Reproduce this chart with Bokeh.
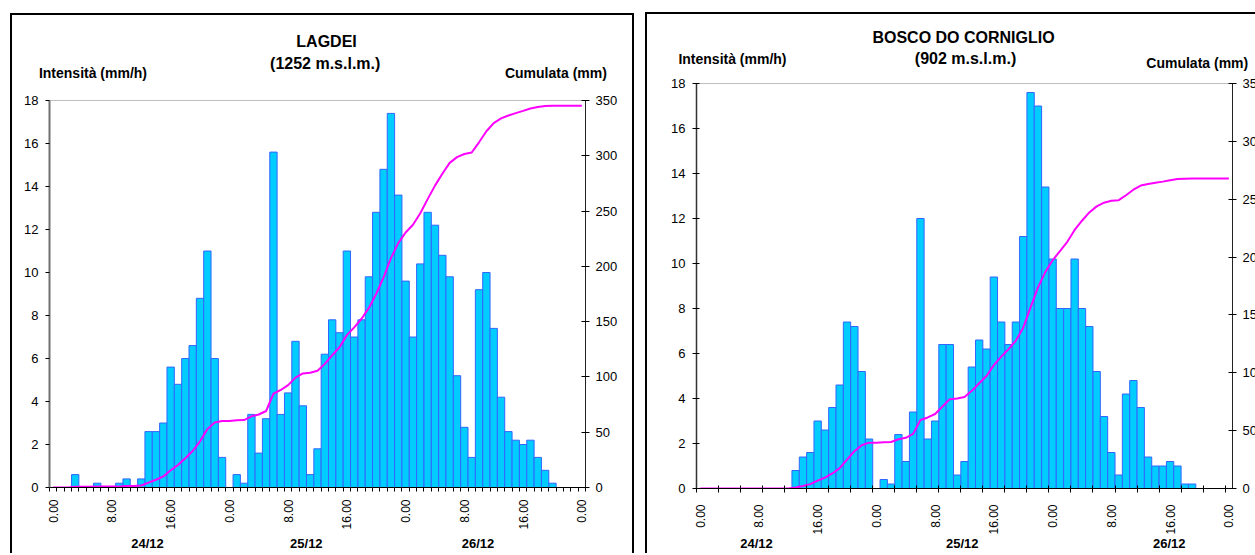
import math
from bokeh.plotting import figure
from bokeh.models import Range1d, LinearAxis, FixedTicker
from bokeh.layouts import row, column
from bokeh.embed import file_html
from bokeh.resources import INLINE

# ---------------- data ----------------
hours = list(range(73))  # hourly categories 24/12 0:00 -> 27/12 0:00
tick_labels = ["0.00", "8.00", "16.00", "0.00", "8.00", "16.00", "0.00", "8.00", "16.00", "0.00"]
day_labels = ["24/12", "25/12", "26/12"]

lagdei_intensity = [
    0, 0, 0, 0.6, 0, 0, 0.2, 0, 0, 0.2, 0.4, 0, 0.4, 2.6, 2.6, 3.0, 5.6, 4.8, 6.0, 6.6, 8.8, 11.0, 6.0, 1.4,
    0, 0.6, 0.2, 3.4, 1.6, 3.2, 15.6, 3.4, 4.4, 6.8, 3.8, 0.6, 1.8, 6.2, 7.8, 7.2, 11.0, 7.0, 7.8, 9.8,
    12.8, 14.8, 17.4, 13.6, 9.6, 7.0, 10.4, 12.8, 12.2, 10.8, 9.8, 5.2, 2.8, 1.4, 9.2, 10.0, 7.4, 4.2,
    2.6, 2.2, 2.0, 2.2, 1.4, 0.8, 0.2, 0, 0, 0, 0]
lagdei_cumulative = [
    0, 0, 0, 0.6, 0.6, 0.6, 0.8, 0.8, 0.8, 1.0, 1.4, 1.4, 1.8, 4.4, 7.0, 10.0, 15.6, 20.4, 26.4, 33.0,
    41.8, 52.8, 58.8, 60.2, 60.2, 60.8, 61.0, 64.4, 66.0, 69.2, 84.8, 88.2, 92.6, 99.4, 103.2, 103.8,
    105.6, 111.8, 119.6, 126.8, 137.8, 144.8, 152.6, 162.4, 175.2, 190.0, 207.4, 221.0, 230.6, 237.6,
    248.0, 260.8, 273.0, 283.8, 293.6, 298.8, 301.6, 303.0, 312.2, 322.2, 329.6, 333.8, 336.4, 338.6,
    340.6, 342.8, 344.2, 345.0, 345.2, 345.2, 345.2, 345.2, 345.2]

bosco_intensity = [
    0, 0, 0, 0, 0, 0, 0, 0, 0, 0, 0, 0, 0, 0.8, 1.4, 1.6, 3.0, 2.6, 3.6, 4.6, 7.4, 7.2, 5.2, 2.2,
    0, 0.4, 0.2, 2.4, 1.2, 3.4, 12.0, 2.2, 3.0, 6.4, 6.4, 0.6, 1.2, 5.4, 6.6, 6.2, 9.4, 7.4, 6.4, 7.4,
    11.2, 17.6, 17.0, 13.4, 10.2, 8.0, 8.0, 10.2, 8.0, 7.2, 5.2, 3.2, 1.6, 0.6, 4.2, 4.8, 3.6, 1.4,
    1.0, 1.0, 1.2, 1.0, 0.2, 0.2, 0, 0, 0, 0, 0]
bosco_cumulative = [
    0, 0, 0, 0, 0, 0, 0, 0, 0, 0, 0, 0, 0, 0.8, 2.2, 3.8, 6.8, 9.4, 13.0, 17.6, 25.0, 32.2, 37.4, 39.6,
    39.6, 40.0, 40.2, 42.6, 43.8, 47.2, 59.2, 61.4, 64.4, 70.8, 77.2, 77.8, 79.0, 84.4, 91.0, 97.2,
    106.6, 114.0, 120.4, 127.8, 139.0, 156.6, 173.6, 187.0, 197.2, 205.2, 213.2, 223.4, 231.4, 238.6,
    243.8, 247.0, 248.6, 249.2, 253.4, 258.2, 261.8, 263.2, 264.2, 265.2, 266.4, 267.4, 267.6, 267.8,
    267.8, 267.8, 267.8, 267.8, 267.8]

FONT = "Liberation Sans"
BAR_FILL = "#00CCFF"
BAR_LINE = "#3366FF"
LINE_COLOR = "#FF00FF"


def text_axis(p, side, positions, texts, size, standoff, bold=True):
    """An axis without line or ticks, used only to place texts outside the plot frame."""
    ax = LinearAxis(ticker=FixedTicker(ticks=list(positions), minor_ticks=[]))
    ax.major_label_overrides = {float(pos): t for pos, t in zip(positions, texts)}
    ax.axis_line_color = None
    ax.major_tick_line_color = None
    ax.minor_tick_line_color = None
    ax.major_tick_out = 0
    ax.major_tick_in = 0
    ax.major_label_text_font = FONT
    ax.major_label_text_font_size = size
    ax.major_label_text_font_style = "bold" if bold else "normal"
    ax.major_label_text_color = "black"
    ax.major_label_standoff = standoff
    p.add_layout(ax, side)
    return ax


def make_panel(intensity, cumulative, width, height, borders, minor_ticks, x_tick_in, y_tick_in,
               left_axis_color, left_axis_width, x_label_standoff, margin, styles):
    p = figure(width=width, height=height, x_range=Range1d(0, 73), y_range=Range1d(0, 18),
               output_backend="svg", toolbar_location=None, x_axis_location=None, y_axis_location=None,
               title_location=None,
               min_border_left=borders[0], min_border_right=borders[1],
               min_border_top=borders[2], min_border_bottom=borders[3])
    p.margin = margin
    p.styles = styles
    p.extra_y_ranges = {"cum": Range1d(0, 350)}
    p.xgrid.visible = False
    p.ygrid.visible = False
    p.outline_line_color = "#BFBFBF"
    p.outline_line_width = 1
    p.background_fill_color = "white"
    p.border_fill_color = "white"

    xs = [h + 0.5 for h in hours]
    p.vbar(x=xs, top=intensity, bottom=0, width=1.0, fill_color=BAR_FILL, line_color=BAR_LINE, line_width=1)
    p.line(x=xs, y=cumulative, y_range_name="cum", line_color=LINE_COLOR, line_width=2)

    # left axis (intensity)
    la = LinearAxis(ticker=FixedTicker(ticks=list(range(0, 19, 2))))
    la.axis_line_color = left_axis_color
    la.axis_line_width = left_axis_width
    la.major_tick_out = 4
    la.major_tick_in = y_tick_in
    la.minor_tick_line_color = None
    la.major_label_text_font = FONT
    la.major_label_text_font_size = "13px"
    la.major_label_text_color = "black"
    la.major_label_standoff = 7
    p.add_layout(la, "left")

    # right axis (cumulative)
    ra = LinearAxis(y_range_name="cum", ticker=FixedTicker(ticks=list(range(0, 351, 50))))
    ra.axis_line_color = "#222222"
    ra.major_tick_out = 4
    ra.major_tick_in = 4
    ra.minor_tick_line_color = None
    ra.major_label_text_font = FONT
    ra.major_label_text_font_size = "13px"
    ra.major_label_text_color = "black"
    ra.major_label_standoff = 6
    p.add_layout(ra, "right")

    # bottom axis: hour labels at category centres, tick marks at category boundaries
    label_pos = [0.5 + 8 * i for i in range(len(tick_labels))]
    ba = LinearAxis(ticker=FixedTicker(ticks=label_pos, minor_ticks=minor_ticks))
    ba.major_label_overrides = {pos: lab for pos, lab in zip(label_pos, tick_labels)}
    ba.major_label_orientation = math.pi / 2
    ba.major_tick_out = 0
    ba.major_tick_in = 0
    ba.minor_tick_out = 4
    ba.minor_tick_in = x_tick_in
    ba.minor_tick_line_color = "black"
    ba.axis_line_color = "black"
    ba.major_label_text_font = FONT
    ba.major_label_text_font_size = "12px"
    ba.major_label_text_color = "black"
    ba.major_label_standoff = x_label_standoff
    p.add_layout(ba, "below")
    return p


# ---------------- left panel: LAGDEI ----------------
p1 = make_panel(
    lagdei_intensity, lagdei_cumulative,
    width=624, height=540, borders=(37, 51, 85, 68), minor_ticks=list(range(0, 74)),
    x_tick_in=0, y_tick_in=0, left_axis_color="#707070", left_axis_width=2, x_label_standoff=8,
    margin=(13, 0, 0, 10),
    styles={"border-top": "2px solid black", "border-left": "2px solid black",
            "border-right": "2px solid black"})
text_axis(p1, "above", [5.92, 68.97], ["Intensità (mm/h)", "Cumulata (mm)"], "14px", 20)
text_axis(p1, "above", [37.55], ["(1252 m.s.l.m.)"], "16px", -10)
text_axis(p1, "above", [37.73], ["LAGDEI"], "16px", 2)
text_axis(p1, "below", [13.35, 34.98, 58.36], day_labels, "13px", 3)

# ---------------- right panel: BOSCO DO CORNIGLIO ----------------
p2 = make_panel(
    bosco_intensity, bosco_cumulative,
    width=635, height=541, borders=(49, 50, 69, 67), minor_ticks=list(range(0, 73, 3)),
    x_tick_in=3, y_tick_in=3, left_axis_color="#333333", left_axis_width=1.5, x_label_standoff=12,
    margin=(12, 0, 0, 11),
    styles={"border-top": "2px solid black", "border-left": "2px solid black"})
text_axis(p2, "above", [68.2], ["Cumulata (mm)"], "14px", 13)
text_axis(p2, "above", [4.9], ["Intensità (mm/h)"], "14px", -15)
text_axis(p2, "above", [36.64], ["(902 m.s.l.m.)"], "16px", -19)
text_axis(p2, "above", [36.37], ["BOSCO DO CORNIGLIO"], "16px", 1)
text_axis(p2, "below", [8.17, 36.19, 64.38], day_labels, "13px", -2)

# each panel in its own column so that the two plot frames are not aligned with each other
root = row(column(p1), column(p2), width=1255, height=555, styles={"overflow": "hidden"})

html = file_html(root, INLINE, title="Intensità e cumulata")
open("out.html", "w").write(html)
